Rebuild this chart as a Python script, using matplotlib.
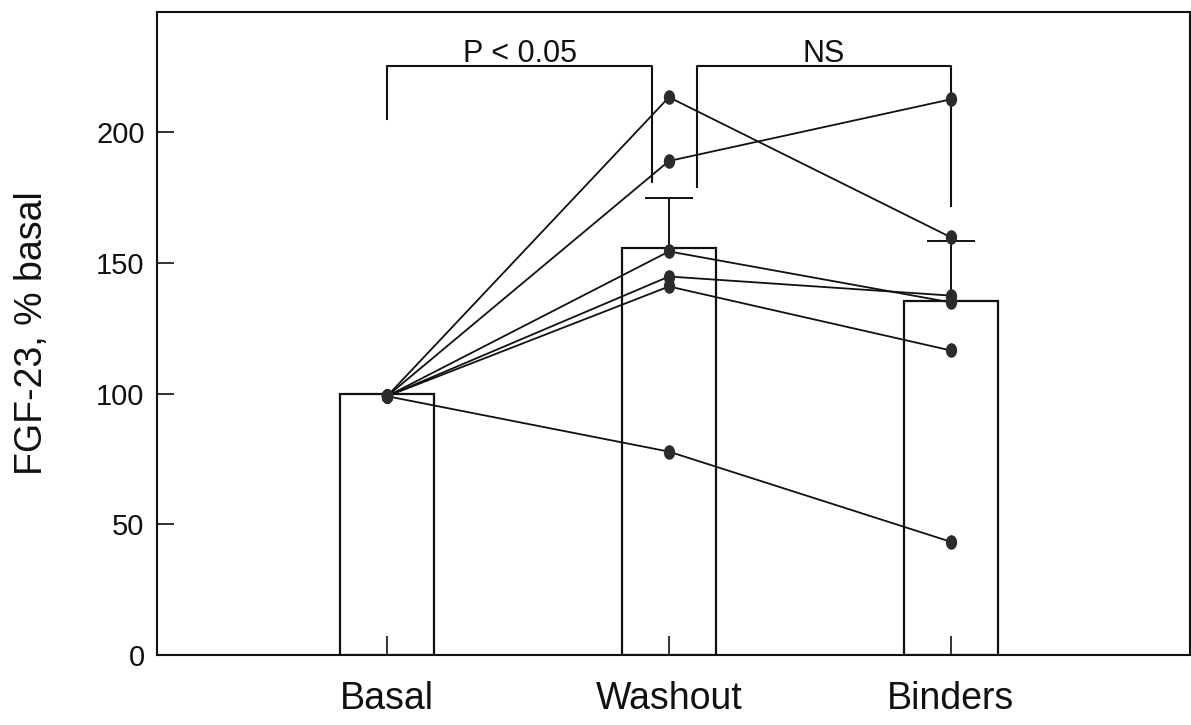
import matplotlib
matplotlib.use("Agg")
import matplotlib.pyplot as plt
import numpy as np
from matplotlib.path import Path
from matplotlib.transforms import Affine2D

plt.rcParams['font.family'] = ['Liberation Sans', 'DejaVu Sans']

# ---- data ----
categories = ["Basal", "Washout", "Binders"]
bar_means = [100, 155.6, 135.6]
bar_err_up = [0, 19.1, 22.6]          # upper SE
basal_vals = [99, 99, 99, 99, 99, 99]
washout_vals = [213.4, 189.0, 154.4, 144.8, 141.0, 77.8]
binders_vals = [159.8, 212.6, 134.9, 137.5, 116.5, 43.3]
yticks = [0, 50, 100, 150, 200]

# significance brackets: (x_left, x_right, y_top, y_left_bottom, y_right_bottom, label)
brackets = [
    (0.0, 0.94, 225.5, 205, 181, "P < 0.05"),
    (1.10, 2.0, 225.5, 179, 171.6, "NS"),
]

ink = "#111111"
fig = plt.figure(figsize=(11.91, 7.25), dpi=100)
ax = fig.add_axes([157/1191, 1-655/725, (1190-157)/1191, (655-12)/725])

x = np.arange(len(categories))
ax.bar(x, bar_means, width=0.333, facecolor="white", edgecolor=ink, linewidth=1.6, zorder=1)
ax.errorbar(x[1:], bar_means[1:], yerr=[np.zeros(2), bar_err_up[1:]], fmt='none',
            ecolor=ink, elinewidth=1.4, capsize=17, capthick=1.4, zorder=2)

ell = Affine2D().scale(0.75, 1.0).transform_path(Path.unit_circle())
for b, w, d in zip(basal_vals, washout_vals, binders_vals):
    ax.plot(x, [b, w, d], color=ink, linewidth=1.3, zorder=3)
    ax.plot(x, [b, w, d], linestyle='none', marker=ell, markersize=9.5,
            color="#2b2b2b", zorder=4)

for xl, xr, yt, ybl, ybr, lab in brackets:
    ax.plot([xl, xl, xr, xr], [ybl, yt, yt, ybr], color=ink, linewidth=1.5, zorder=3)
    ax.text((xl + xr) / 2, yt + 1.5, lab, ha='center', va='baseline',
            fontsize=22, color=ink)

ax.set_xlim(-0.816, 2.848)
ax.set_ylim(0, 246)
ax.set_xticks(x)
ax.set_xticklabels(categories)
ax.set_yticks(yticks)
ax.tick_params(axis='y', direction='in', length=12, width=1.2, pad=9, labelsize=21, colors=ink)
ax.tick_params(axis='x', direction='in', length=14, width=1.2, pad=19, labelsize=27, colors=ink)
for s in ax.spines.values():
    s.set_linewidth(1.5)
    s.set_color(ink)

ax.set_ylabel("FGF-23, % basal", fontsize=27, color=ink)
ax.yaxis.set_label_coords(-0.104, 0.5)

fig.savefig("out.png", dpi=100)
